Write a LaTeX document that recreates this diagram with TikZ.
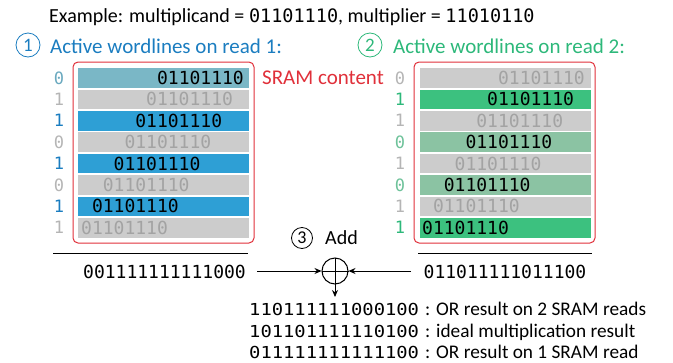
\documentclass[tikz,border=0pt]{standalone}
\usepackage{fontspec}
\setmainfont{Carlito}
\newfontfamily\monof{DejaVu Sans Mono}
\newfontfamily\monow[FakeStretch=1.14]{DejaVu Sans Mono}
\usetikzlibrary{arrows.meta}
\definecolor{cblue}{HTML}{1B7DC0}
\definecolor{cgreen}{HTML}{2DB87A}
\definecolor{cred}{HTML}{E0303A}
\definecolor{fblue}{HTML}{2E9FD5}
\definecolor{fteal}{HTML}{7AB7C6}
\definecolor{fgray}{HTML}{CCCCCC}
\definecolor{fgreen}{HTML}{3CC17F}
\definecolor{flgreen}{HTML}{8BC3A3}
\definecolor{tgray}{HTML}{A3A3A3}
\definecolor{bgray}{HTML}{B5B5B5}
\definecolor{bteal}{HTML}{6AA9BF}
\definecolor{blgreen}{HTML}{6EC29A}
\tikzset{
  rowbox/.style={draw=none, minimum width=171pt, minimum height=19.5pt, inner sep=0pt},
  rowtxt/.style={anchor=west, inner sep=0pt, font=\monof\fontsize{18}{20}\selectfont},
  bittxt/.style={inner sep=0pt, font=\monof\fontsize{17}{19}\selectfont},
  redbox/.style={draw=cred, line width=1pt, rounded corners=5pt, minimum width=181pt, minimum height=181pt, inner sep=0pt},
  numcirc/.style={circle, draw, line width=0.8pt, minimum size=24pt, inner sep=0pt, font=\fontsize{19}{21}\selectfont},
  lbl/.style={anchor=west, inner sep=0pt, font=\fontsize{21}{24}\selectfont},
  sumtxt/.style={inner sep=0pt, font=\monof\fontsize{18}{20}\selectfont},
  restxt/.style={anchor=base west, inner sep=0pt, font=\monow\fontsize{16.5}{20}\selectfont},
  reslbl/.style={anchor=base west, inner sep=0pt, font=\fontsize{19.3}{22}\selectfont},
  arr/.style={line width=1pt, -{Stealth[length=7pt,width=6pt]}},
}
\begin{document}
\begin{tikzpicture}[x=1pt,y=-1pt]
\useasboundingbox (0,0) rectangle (673,362);

% title
\node[anchor=west, inner sep=0pt, font=\fontsize{20}{22}\selectfont] (title) at (49,17)
  {Example: multiplicand = {\monof\fontsize{18.5}{20}\selectfont 01101110}, multiplier = {\monof\fontsize{18.5}{20}\selectfont 11010110}};

% headings
\node[numcirc, draw=cblue, text=cblue] (c1) at (28,45) {1};
\node[lbl, text=cblue] (h1) at (50,46) {Active wordlines on read 1:};
\node[numcirc, draw=cgreen, text=cgreen] (c2) at (370,45) {2};
\node[lbl, text=cgreen] (h2) at (393,46) {Active wordlines on read 2:};

% red boxes
\node[redbox] (LB) at (163.5,152.5) {};
\node[redbox] (RB) at (504.5,152.5) {};
\node[anchor=west, inner sep=0pt, text=cred, font=\fontsize{21}{24}\selectfont] (sram) at (262,78) {SRAM content};

% left rows
\foreach \i/\f/\t/\b/\bc in {0/fteal/black/0/bteal, 1/fgray/tgray/1/bgray, 2/fblue/black/1/cblue, 3/fgray/tgray/0/bgray,
    4/fblue/black/1/cblue, 5/fgray/tgray/0/bgray, 6/fblue/black/1/cblue, 7/fgray/tgray/1/bgray}{
  \pgfmathsetmacro{\yc}{78+21.4*\i}
  \pgfmathsetmacro{\xt}{81+(7-\i)*10.84}
  \node[rowbox, fill=\f] (L\i) at (163.5,\yc) {};
  \node[rowtxt, text=\t] (LT\i) at (\xt,\yc) {01101110};
  \node[bittxt, text=\bc] (LBit\i) at (59,\yc) {\b};
}
% right rows
\foreach \i/\f/\t/\b/\bc in {0/fgray/tgray/0/bgray, 1/fgreen/black/1/cgreen, 2/fgray/tgray/1/bgray, 3/flgreen/black/0/blgreen,
    4/fgray/tgray/1/bgray, 5/flgreen/black/0/blgreen, 6/fgray/tgray/1/bgray, 7/fgreen/black/1/cgreen}{
  \pgfmathsetmacro{\yc}{78+21.4*\i}
  \pgfmathsetmacro{\xt}{422+(7-\i)*10.84}
  \node[rowbox, fill=\f] (R\i) at (505,\yc) {};
  \node[rowtxt, text=\t] (RT\i) at (\xt,\yc) {01101110};
  \node[bittxt, text=\bc] (RBit\i) at (400,\yc) {\b};
}

% add step
\node[numcirc, minimum size=21pt, font=\fontsize{18}{20}\selectfont] (c3) at (302,238) {3};
\node[anchor=west, inner sep=0pt, font=\fontsize{20}{22}\selectfont] (addl) at (325,238) {Add};
\node[circle, draw, line width=1pt, minimum size=26pt, inner sep=0pt] (add) at (335,271) {};
\draw[line width=1pt] (add.north) -- (add.south) (add.west) -- (add.east);

% sums
\coordinate (lt1) at (53,253); \coordinate (lt2) at (248,253);
\draw[line width=1pt] (lt1) -- (lt2);
\coordinate (rt1) at (418,253); \coordinate (rt2) at (592,253);
\draw[line width=1pt] (rt1) -- (rt2);
\node[sumtxt] (lsum) at (164.5,272) {001111111111000};
\node[sumtxt] (rsum) at (505,272) {011011111011100};
\coordinate (la) at (257,271);
\coordinate (ra) at (411,271);
\coordinate (da) at (335,297);
\draw[arr] (la) -- (add.west);
\draw[arr] (ra) -- (add.east);
\draw[arr] (add.south) -- (da);

% results
\node[restxt] (r1) at (249,315.5) {110111111000100};
\node[restxt] (r2) at (249,337) {101101111110100};
\node[restxt] (r3) at (249,358.3) {011111111111100};
\node[reslbl] (l1) at (425,315.5) {: OR result on 2 SRAM reads};
\node[reslbl] (l2) at (425,337) {: ideal multiplication result};
\node[reslbl] (l3) at (425,358.3) {: OR result on 1 SRAM read};
\end{tikzpicture}
\end{document}
